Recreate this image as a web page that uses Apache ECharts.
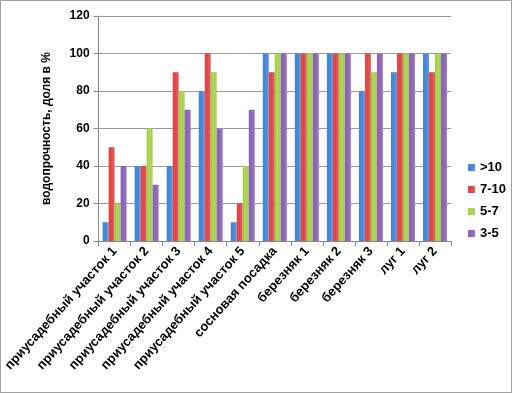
<!DOCTYPE html>
<html><head><meta charset="utf-8">
<script src="https://cdn.jsdelivr.net/npm/echarts@6/dist/echarts.min.js"></script>
<style>html,body{margin:0;padding:0;background:#fff}#c{width:512px;height:393px;box-sizing:border-box;border:1px solid #a0a0a0}</style>
</head><body><div id="c"></div>
<script>
const categories = ['приусадебный участок 1','приусадебный участок 2','приусадебный участок 3','приусадебный участок 4','приусадебный участок 5','сосновая посадка','березняк 1','березняк 2','березняк 3','луг 1','луг 2'];
const s10 = [10,40,40,80,10,100,100,100,80,90,100];
const s7_10 = [50,40,90,100,20,90,100,100,100,100,90];
const s5_7 = [20,60,80,90,40,100,100,100,90,100,100];
const s3_5 = [40,30,70,60,70,100,100,100,100,100,100];
const seriesNames = ['>10','7-10','5-7','3-5'];
const colors = ['#3370be','#c63535','#90b83a','#7650a0'];
const data = [s10,s7_10,s5_7,s3_5];
const chart = echarts.init(document.getElementById('c'));
chart.setOption({
  animation:false,
  textStyle:{fontFamily:'Liberation Sans, Arial, sans-serif'},
  grid:{left:92,right:60,top:15,bottom:151},
  legend:{orient:'vertical',left:462,top:155,itemWidth:7,itemHeight:7,itemGap:9,icon:'rect',
    textStyle:{fontSize:13,fontWeight:'bold',color:'#000'},data:seriesNames},
  xAxis:{type:'category',data:categories,
    axisLine:{lineStyle:{color:'#888'}},
    axisTick:{show:true,alignWithLabel:false,length:5,lineStyle:{color:'#888'}},
    axisLabel:{rotate:48,interval:0,fontSize:13,fontWeight:'bold',color:'#000',margin:8}},
  yAxis:{type:'value',min:0,max:120,interval:20,
    name:'водопрочность, доля в %',nameLocation:'middle',nameGap:46,nameRotate:90,
    nameTextStyle:{fontSize:12,fontWeight:'bold',color:'#000'},
    axisLine:{show:true,lineStyle:{color:'#888'}},
    axisTick:{show:true,length:5,lineStyle:{color:'#888'}},
    splitLine:{lineStyle:{color:'#999'}},
    axisLabel:{fontSize:12,fontWeight:'bold',color:'#000',margin:9}},
  series:data.map((d,i)=>({name:seriesNames[i],type:'bar',data:d,barGap:'0%',barCategoryGap:'25%',
    itemStyle:{color:new echarts.graphic.LinearGradient(0,0,1,0,[{offset:0,color:echarts.color.lift(colors[i],0.15)},{offset:0.35,color:echarts.color.lift(colors[i],-0.2)},{offset:1,color:echarts.color.lift(colors[i],0.25)}])}}))
});
</script></body></html>
